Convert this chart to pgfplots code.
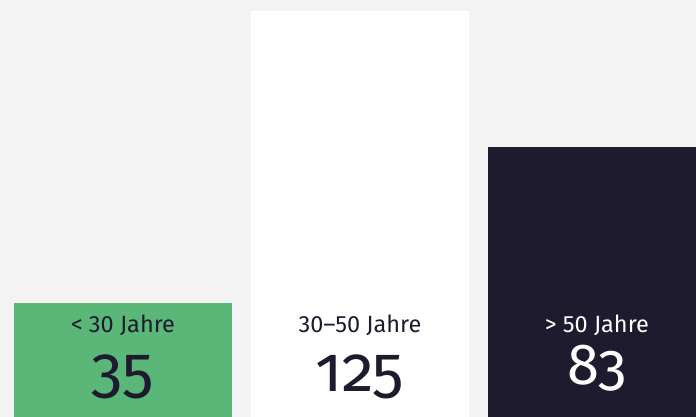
\documentclass[border=0pt]{standalone}
\usepackage{fontspec}
\setmainfont{Fira Sans}
\newfontfamily\numfont[Numbers=OldStyle]{Fira Sans}
\usepackage{pgfplots}
\pgfplotsset{compat=1.18}
\definecolor{bg}{HTML}{F3F3F3}
\definecolor{grn}{HTML}{5AB778}
\definecolor{navy}{HTML}{1E1B2E}
\begin{document}
\begin{tikzpicture}
\begin{axis}[
  width=696pt, height=417pt, scale only axis,
  xmin=-0.519, xmax=2.418, ymin=0, ymax=128.3,
  axis line style={draw=none}, xtick=\empty, ytick=\empty,
  axis background/.style={fill=bg},
  ybar, bar width=0.92, bar shift=0pt,
]
\addplot[fill=grn, draw=none] coordinates {(0,35)};
\addplot[fill=white, draw=none] coordinates {(1,125)};
\addplot[fill=navy, draw=none] coordinates {(2,83)};
\node[anchor=base, text=navy, font=\fontsize{23.5}{23.5}\selectfont] at (axis cs:0,25.94) {< 30 Jahre};
\node[anchor=base, text=navy, font=\fontsize{23.5}{23.5}\selectfont] at (axis cs:1,25.94) {30–50 Jahre};
\node[anchor=base, text=white, font=\fontsize{23.5}{23.5}\selectfont] at (axis cs:2,25.94) {> 50 Jahre};
\node[anchor=base, text=navy, font=\numfont\fontsize{64}{64}\selectfont] at (axis cs:0,7.785) {35};
\node[anchor=base, text=navy, font=\numfont\fontsize{64}{64}\selectfont] at (axis cs:1,7.785) {125};
\node[anchor=base, text=white, font=\numfont\fontsize{58}{58}\selectfont] at (axis cs:2,9.85) {83};
\end{axis}
\pgfresetboundingbox
\useasboundingbox (current axis.south west) rectangle (current axis.north east);
\end{tikzpicture}
\end{document}
